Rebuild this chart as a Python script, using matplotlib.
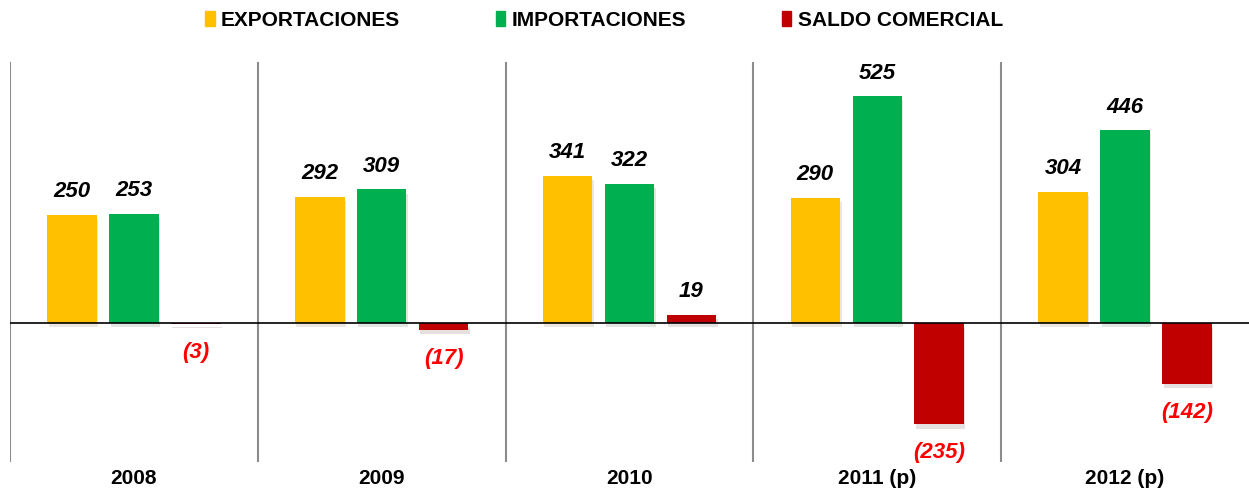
import numpy as np
import matplotlib.pyplot as plt
import matplotlib.patheffects as pe
from matplotlib.patches import Patch
from matplotlib.transforms import blended_transform_factory

plt.rcParams['font.family'] = ['Liberation Sans', 'DejaVu Sans']

# Data (millones)
years = ['2008', '2009', '2010', '2011 (p)', '2012 (p)']
exportaciones = [250, 292, 341, 290, 304]
importaciones = [253, 309, 322, 525, 446]
saldo = [-3, -17, 19, -235, -142]

series_names = ['EXPORTACIONES', 'IMPORTACIONES', 'SALDO COMERCIAL']
colors = ['#FFC000', '#00B050', '#C00000']

fig = plt.figure(figsize=(12.49, 4.91), dpi=100)
ax = fig.add_axes([10 / 1249, 1 - 462 / 491, 1 - 10 / 1249, 400 / 491])

x = np.arange(len(years))
width = 0.2
offsets = [-0.25, 0, 0.25]
shadow = [pe.SimplePatchShadow(offset=(1, -3), alpha=0.12), pe.Normal()]

for vals, off, col in zip([exportaciones, importaciones, saldo], offsets, colors):
    ax.bar(x + off, vals, width, color=col, zorder=2, path_effects=shadow)
    for xi, v in zip(x + off, vals):
        if v >= 0:
            ax.annotate(f'{v}', (xi, v), xytext=(0, 9), textcoords='offset points',
                        ha='center', va='bottom', fontsize=16, fontweight='bold',
                        fontstyle='italic', color='black')
        else:
            ax.annotate(f'({-v})', (xi, v), xytext=(0, -13), textcoords='offset points',
                        ha='center', va='top', fontsize=16, fontweight='bold',
                        fontstyle='italic', color='#FF0000')

ax.axhline(0, color='black', lw=1.2, zorder=3)
for sep in np.arange(-0.5, len(years) - 0.5, 1):
    ax.axvline(sep, color='#8C8C8C', lw=1.5, zorder=1)

ax.set_xlim(-0.5, len(years) - 0.5)
ax.set_ylim(-322, 604)
ax.set_xticks([])
ax.set_yticks([])
for s in ax.spines.values():
    s.set_visible(False)

trans = blended_transform_factory(ax.transData, fig.transFigure)
for xi, yr in zip(x, years):
    ax.text(xi, 1 - 478 / 491, yr, transform=trans, ha='center', va='center',
            fontsize=15, fontweight='bold')

handles = [Patch(color=c) for c in colors]
fig.legend(handles, series_names, loc='center', bbox_to_anchor=(604 / 1249, 1 - 20 / 491),
           ncol=3, frameon=False, handlelength=0.45, handleheight=0.7,
           handletextpad=0.3, columnspacing=4.6,
           prop={'weight': 'bold', 'size': 15})

fig.savefig('out.png', dpi=100)
